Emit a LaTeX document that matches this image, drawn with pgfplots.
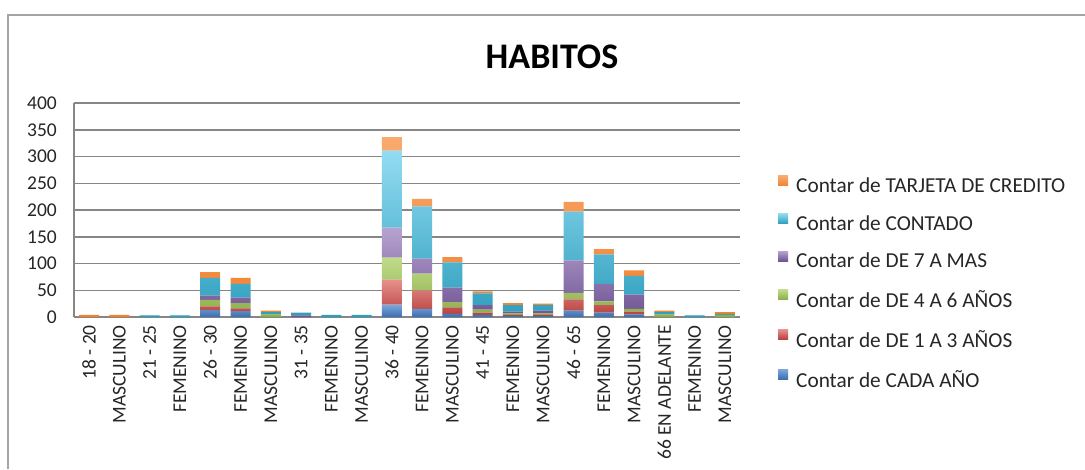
\documentclass[border=0pt]{standalone}
\usepackage{fontspec}
\setmainfont{Carlito}
\usepackage{pgfplots}
\pgfplotsset{compat=1.18}
\usepackage{pgfplotstable}

\definecolor{gridgray}{RGB}{134,134,134}
\definecolor{framegray}{RGB}{165,165,165}
\definecolor{blueT}{RGB}{126,167,218}\definecolor{blueB}{RGB}{60,109,176}
\definecolor{redT}{RGB}{232,144,141}\definecolor{redB}{RGB}{180,64,61}
\definecolor{greenT}{RGB}{192,219,138}\definecolor{greenB}{RGB}{138,173,71}
\definecolor{purpleT}{RGB}{183,163,208}\definecolor{purpleB}{RGB}{110,84,147}
\definecolor{cyanT}{RGB}{147,220,242}\definecolor{cyanB}{RGB}{46,158,189}
\definecolor{orangeT}{RGB}{249,170,110}\definecolor{orangeB}{RGB}{238,130,48}

% counts per age group / sex
\pgfplotstableread{
idx cada uno cuatro siete contado tarjeta
0  0  0  0  0  0   4
1  0  0  0  0  0   4
2  0  0  0  0  3   0
3  0  0  0  0  3   0
4  13 7  12 8  33  11
5  11 5  10 10 26  11
6  0  0  5  0  4   3
7  0  0  0  3  5   0
8  0  0  0  0  4   0
9  0  0  0  0  4   0
10 23 47 41 56 144 25
11 15 35 31 28 98  14
12 6  12 10 27 47  10
13 4  4  6  8  22  4
14 2  2  3  3  12  4
15 2  2  3  5  10  3
16 12 21 12 61 91  18
17 8  14 7  33 55  10
18 5  5  5  27 35  10
19 0  0  5  0  4   3
20 0  0  0  0  3   0
21 0  0  4  0  2   3
}\habitos

\begin{document}
\begin{tikzpicture}[x=1pt,y=1pt]
\useasboundingbox (0,0) rectangle (1085,469);
\fill[white] (0,0) rectangle (1085,469);
\draw[framegray, line width=2pt] (8,0) -- (8,454) -- (1085,454);
\node[font=\fontsize{36}{40}\selectfont\bfseries] at (552,412.5) {HABITOS};
\begin{axis}[
  at={(74pt,152pt)}, anchor=south west,
  width=666pt, height=214pt, scale only axis,
  ybar stacked, bar width=20pt,
  xmin=-0.5, xmax=21.5, ymin=0, ymax=400,
  ytick={0,50,...,400},
  xtick=data,
  xticklabels={18 - 20, MASCULINO, 21 - 25, FEMENINO, 26 - 30, FEMENINO, MASCULINO, 31 - 35, FEMENINO, MASCULINO, 36 - 40, FEMENINO, MASCULINO, 41 - 45, FEMENINO, MASCULINO, 46 - 65, FEMENINO, MASCULINO, 66 EN ADELANTE, FEMENINO, MASCULINO},
  axis x line*=bottom, axis y line*=left,
  axis line style={gridgray, line width=1.5pt, -},
  ymajorgrids, grid style={gridgray, line width=1.5pt},
  major tick length=0pt,
  /pgf/number format/assume math mode=true,
  tick label style={font=\fontsize{19.5}{21}\selectfont, text=black!85},
  xticklabel style={rotate=90, anchor=east, inner sep=0pt},
  xticklabel shift=8pt,
  yticklabel style={anchor=east, inner sep=0pt},
  yticklabel shift=17pt,
  legend style={at={(1.057,0.661)}, anchor=north west, draw=none, fill=none,
    inner sep=0pt, font=\fontsize{21.3}{23}\selectfont, text=black!85, row sep=17.3pt,
    /tikz/every odd column/.append style={column sep=6pt}},
  legend cell align=left, reverse legend,
  legend image code/.code={\fill[#1] (0pt,0pt) rectangle (10pt,10pt);},
]
\addplot[draw=none, top color=blueT, bottom color=blueB] table[x=idx,y=cada] \habitos;
\addplot[draw=none, top color=redT, bottom color=redB] table[x=idx,y=uno] \habitos;
\addplot[draw=none, top color=greenT, bottom color=greenB] table[x=idx,y=cuatro] \habitos;
\addplot[draw=none, top color=purpleT, bottom color=purpleB] table[x=idx,y=siete] \habitos;
\addplot[draw=none, top color=cyanT, bottom color=cyanB] table[x=idx,y=contado] \habitos;
\addplot[draw=none, top color=orangeT, bottom color=orangeB] table[x=idx,y=tarjeta] \habitos;
\legend{Contar de CADA AÑO, Contar de DE 1 A 3 AÑOS, Contar de DE 4 A 6 AÑOS, Contar de DE 7 A MAS, Contar de CONTADO, Contar de TARJETA DE CREDITO}
\end{axis}
\end{tikzpicture}
\end{document}
